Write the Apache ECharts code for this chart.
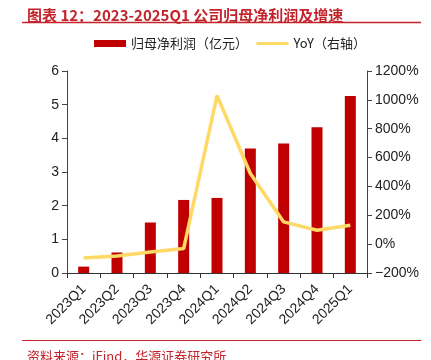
<!DOCTYPE html>
<html><head><meta charset="utf-8">
<script src="https://cdn.jsdelivr.net/npm/echarts@6/dist/echarts.min.js"></script>
<style>html,body{margin:0;padding:0;background:#fff}#c{width:431px;height:360px}</style>
</head><body><div id="c"></div>
<script>
const categories = ['2023Q1','2023Q2','2023Q3','2023Q4','2024Q1','2024Q2','2024Q3','2024Q4','2025Q1'];
const profit = [0.19, 0.61, 1.50, 2.17, 2.23, 3.70, 3.85, 4.33, 5.26];
const yoy = [-96, -82, -54, -31, 1030, 490, 154, 96, 131];
const leftTicks = [0,1,2,3,4,5,6];
const rightTicks = [-200,0,200,400,600,800,1000,1200];

const chart = echarts.init(document.getElementById('c'));
const font = '"Liberation Sans", Arial, "Noto Sans CJK SC", sans-serif';
chart.setOption({
  animation: false,
  title: [{
    text: '图表 12：2023-2025Q1 公司归母净利润及增速',
    left: 22, top: 3,
    textStyle: {color: '#C3242C', fontSize: 15, fontWeight: 'bold', fontFamily: '"Noto Sans CJK SC", sans-serif'}
  },{
    text: '资料来源：iFind，华源证券研究所',
    left: 22, top: 345,
    textStyle: {color: '#C3242C', fontSize: 13, fontWeight: 'normal', fontFamily: '"Noto Sans CJK SC", sans-serif'}
  }],
  graphic: [
    {type:'line', shape:{x1:22,y1:22.5,x2:421,y2:22.5}, style:{stroke:'#C3242C', lineWidth:1.5}},
    {type:'line', shape:{x1:22,y1:340.5,x2:421,y2:340.5}, style:{stroke:'#C3242C', lineWidth:1}}
  ],
  legend: {
    top: 37, left: 94, itemGap: 7, padding: 0,
    textStyle: {fontSize: 13, color: '#222', fontFamily: '"Noto Sans CJK SC", sans-serif'},
    data: [
      {name: '归母净利润（亿元）', icon: 'rect', itemStyle:{color:'#C00000'}},
      {name: 'YoY（右轴）', itemStyle:{opacity:0}, lineStyle:{color:'#FFD966', width:3}}
    ],
    itemWidth: 32, itemHeight: 7
  },
  grid: {left: 67, right: 64, top: 71, bottom: 87},
  xAxis: {
    type: 'category', data: categories,
    axisLine: {lineStyle: {color: '#333'}},
    axisTick: {show: true, alignWithLabel: false, length: 5, lineStyle:{color:'#333'}},
    axisLabel: {rotate: 45, fontSize: 14, color: '#222', fontFamily: font, margin: 14}
  },
  yAxis: [{
    type: 'value', min: 0, max: 6, interval: 1,
    axisLine: {show: true, lineStyle: {color: '#444'}},
    axisTick: {show: true, length: 5, lineStyle:{color:'#444'}},
    splitLine: {show: false},
    axisLabel: {fontSize: 14, color: '#222', fontFamily: font, margin: 8,
      formatter: v => leftTicks.includes(v) ? String(v) : ''}
  },{
    type: 'value', min: -200, max: 1200, interval: 200,
    axisLine: {show: true, lineStyle: {color: '#444'}},
    axisTick: {show: true, length: 5, lineStyle:{color:'#444'}},
    splitLine: {show: false},
    axisLabel: {fontSize: 14, color: '#222', fontFamily: font, margin: 8,
      formatter: v => rightTicks.includes(v) ? (v < 0 ? '−' + Math.abs(v) : v) + '%' : ''}
  }],
  series: [{
    name: '归母净利润（亿元）', type: 'bar', data: profit, barWidth: 11,
    itemStyle: {color: '#C00000'}
  },{
    name: 'YoY（右轴）', type: 'line', yAxisIndex: 1, data: yoy,
    symbol: 'none', lineStyle: {color: '#FFD966', width: 3.5}, itemStyle:{color:'#FFD966'}
  }]
});
</script></body></html>
